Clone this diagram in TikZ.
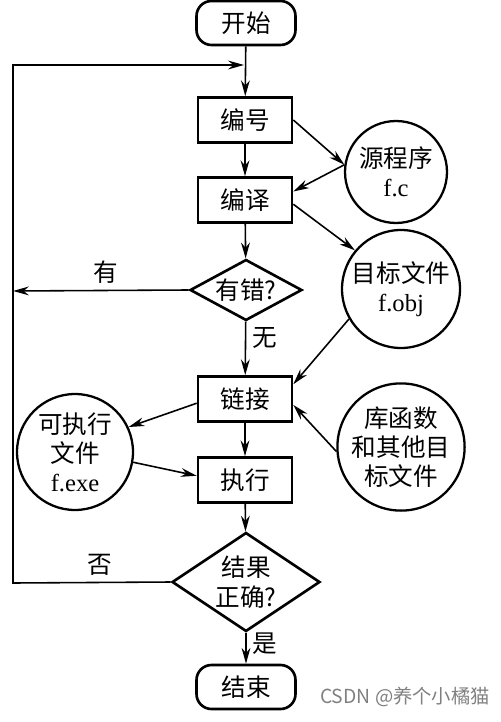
\documentclass[tikz,border=0pt]{standalone}
\usepackage{fontspec}
\setmainfont{Liberation Serif}
\newfontfamily\cjk{Noto Sans CJK SC}
\usetikzlibrary{shapes.geometric,arrows.meta}

\tikzset{
  box/.style={draw, line width=1.5pt, minimum width=1.88cm, minimum height=0.9cm,
    font=\cjk\fontsize{14}{16.5}\selectfont},
  term/.style={box, rounded corners=0.3cm, minimum width=1.98cm, minimum height=0.88cm},
  file/.style={draw, circle, line width=1.3pt, align=center, inner sep=0pt,
    font=\cjk\fontsize{14}{16.5}\selectfont},
  test/.style={draw, diamond, line width=1.5pt, inner sep=0pt, align=center,
    font=\cjk\fontsize{14}{17}\selectfont},
  arr/.style={-{Stealth[length=9pt,width=5pt]}, line width=0.9pt},
  lbl/.style={font=\cjk\fontsize{14}{16}\selectfont}
}

\begin{document}
\begin{tikzpicture}[x=0.02cm, y=-0.02cm]
  \useasboundingbox (0,0) rectangle (500,722);

  % main column
  \node[term] (st) at (246,23) {开始};
  \node[box] (bh) at (245,120) {编号};
  \node[box] (by) at (245,200) {编译};
  \node[test, minimum width=2.24cm, minimum height=1.22cm, aspect=2] (err) at (246,290) {有错?};
  \node[box] (lk) at (245,399) {链接};
  \node[box] (ex) at (245,480) {执行};
  \node[test, minimum width=2.96cm, minimum height=1.98cm, aspect=1.5] (ok) at (246,582) {结果\\正确?};
  \node[term] (stop) at (246,687) {结束};

  % files
  \node[file, minimum size=2.04cm] (src) at (396,172) {源程序\\\normalfont f.c};
  \node[file, minimum size=2.36cm] (obj) at (401,289) {目标文件\\\normalfont f.obj};
  \node[file, minimum size=2.44cm] (lib) at (401,447) {库函数\\和其他目\\标文件};
  \node[file, minimum size=2.32cm] (exe) at (75,452) {可执行\\文件\\\normalfont f.exe};

  \draw[arr] (st) -- (bh);
  \draw[arr] (bh) -- (by);
  \draw[arr] (by) -- (err);
  \draw[arr] (err) -- (lk) node[lbl, pos=.3, right] {无};
  \draw[arr] (lk) -- (ex);
  \draw[arr] (ex) -- (ok);
  \draw[arr] (ok) -- (stop) node[lbl, pos=.35, right] {是};

  \draw[arr] (bh.east) -- (src.172);
  \draw[arr] (src.172) -- (by.10);
  \draw[arr] (by.-5) -- (obj.140);
  \draw[arr] (obj.210) -- (lk.17);
  \draw[arr] (lib.184) -- (lk.-7);
  \draw[arr] (lk.185) -- (exe.25);
  \draw[arr] (exe.-10) -- (ex.175);

  % loop back
  \coordinate (join) at (244,65);
  \coordinate (lt) at (13,65);
  \coordinate (lm) at (13,291);
  \coordinate (lb) at (13,583);
  \draw[arr] (err.west) -- (lm) node[lbl, pos=.47, above] {有};
  \draw[arr] (ok.west) -- (lb) node[lbl, pos=.45, above] {否} -- (lt) -- (join);

  \node[font=\cjk\fontsize{11}{13}\selectfont, text=gray] (mark) at (405,697) {CSDN @养个小橘猫};
\end{tikzpicture}
\end{document}
